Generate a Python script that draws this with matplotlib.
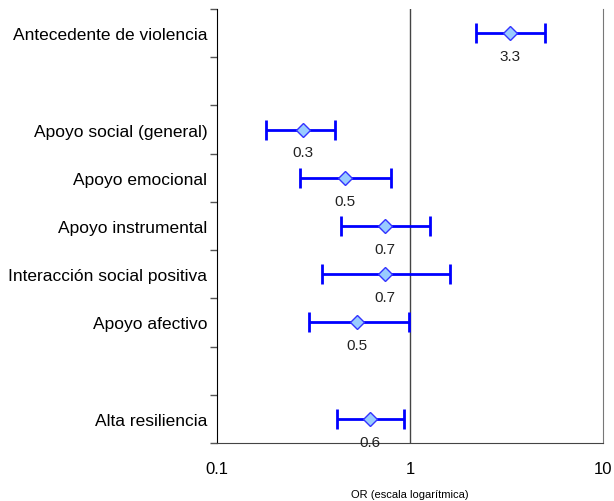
import matplotlib.pyplot as plt
import numpy as np

plt.rcParams['font.family'] = ['Liberation Sans', 'DejaVu Sans']

# data
labels = ["Antecedente de violencia", "", "Apoyo social (general)", "Apoyo emocional",
          "Apoyo instrumental", "Interacción social positiva", "Apoyo afectivo", "",
          "Alta resiliencia"]
rows = [0, 2, 3, 4, 5, 6, 8]
odds = [3.3, 0.28, 0.46, 0.74, 0.74, 0.53, 0.62]
lower = [2.2, 0.18, 0.27, 0.44, 0.35, 0.30, 0.42]
upper = [5.0, 0.41, 0.80, 1.27, 1.61, 0.99, 0.93]
shown = ["3.3", "0.3", "0.5", "0.7", "0.7", "0.5", "0.6"]

fig = plt.figure(figsize=(6.14, 5.02), dpi=100)
ax = fig.add_axes([217/614, 58/502, 386/614, 434/502])

ax.set_xscale('log')
ax.set_xlim(0.1, 10)
ax.set_ylim(len(labels), 0)

y = np.array(rows) + 0.5
odds = np.array(odds)
err = [odds - np.array(lower), np.array(upper) - odds]
ax.errorbar(odds, y, xerr=err, fmt='none', ecolor='#0000ff', elinewidth=2,
            capsize=7, capthick=2, zorder=2)
ax.plot(odds, y, 'D', ms=7.5, mfc='#99ccff', mec='#3333ff', mew=1, zorder=3)
for xv, yv, s in zip(odds, y, shown):
    ax.text(xv, yv + 0.33, s, ha='center', va='top', fontsize=11, color='#222222')

ax.axvline(1, color='#444444', lw=1, zorder=1)

# y axis: tick marks between rows, labels at row centres
ax.set_yticks(np.arange(len(labels) + 1))
ax.set_yticklabels([])
ax.set_yticks(np.arange(len(labels)) + 0.5, minor=True)
ax.set_yticklabels(labels, minor=True, fontsize=12.5)
ax.tick_params(axis='y', which='major', length=5, color='#555555', width=1)
ax.tick_params(axis='y', which='minor', length=0, pad=7)

ax.set_xticks([0.1, 1, 10])
ax.set_xticklabels(["0.1", "1", "10"], fontsize=12)
ax.xaxis.set_minor_locator(plt.NullLocator())
ax.tick_params(axis='x', length=0, pad=13)
ax.set_xlabel("OR (escala logarítmica)", fontsize=8, labelpad=9)

ax.spines['top'].set_visible(False)
ax.spines['right'].set_color('#777777')
ax.spines['left'].set_color('black')
ax.spines['bottom'].set_color('#444444')

fig.savefig('out.png', dpi=100)
